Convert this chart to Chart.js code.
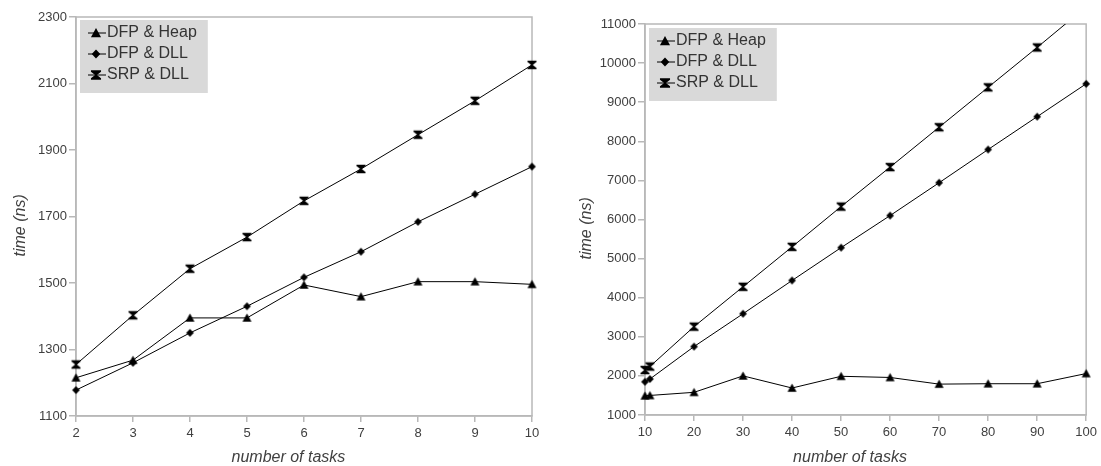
<!DOCTYPE html>
<html>
<head>
<meta charset="utf-8">
<script src="https://cdn.jsdelivr.net/npm/chart.js@4.4.1/dist/chart.umd.min.js"></script>
<style>
  html, body { margin: 0; padding: 0; background: #fff; }
  #wrap { position: relative; width: 1101px; height: 466px; }
  .box { position: absolute; top: 0; height: 466px; }
  #leftBox { left: 0; width: 550px; }
  #rightBox { left: 548px; width: 553px; }
</style>
</head>
<body>
<div id="wrap">
  <div class="box" id="leftBox"><canvas id="leftChart"></canvas></div>
  <div class="box" id="rightBox"><canvas id="rightChart"></canvas></div>
</div>
<script>
// series names (same in both panels)
const seriesNames = ['DFP & Heap', 'DFP & DLL', 'SRP & DLL'];

// left panel: 2..10 tasks
const tasksLeft = [2, 3, 4, 5, 6, 7, 8, 9, 10];
const heapLeft = [1215, 1268, 1395, 1395, 1494, 1459, 1504, 1504, 1496];
const dfpDllLeft = [1178, 1260, 1350, 1430, 1517, 1594, 1684, 1767, 1850];
const srpDllLeft = [1255, 1403, 1543, 1638, 1747, 1843, 1946, 2048, 2156];

// right panel: 10..100 tasks
const tasksRight = [10, 11, 20, 30, 40, 50, 60, 70, 80, 90, 100];
const heapRight = [1490, 1500, 1580, 2000, 1690, 1990, 1960, 1790, 1800, 1800, 2060];
const dfpDllRight = [1850, 1920, 2750, 3590, 4440, 5280, 6100, 6940, 7790, 8630, 9470];
const srpDllRight = [2150, 2240, 3260, 4280, 5300, 6330, 7340, 8360, 9380, 10400, 11440];

const FONT = "'Liberation Sans', Arial, sans-serif";
const AXIS_GRAY = '#b8b8b8';
const TEXT_GRAY = '#404040';
const LEGEND_PAD = 5;
const LEGEND_FONT = 16;

// marker shapes drawn on small canvases
function markerCanvas(kind, withLine, k) {
  const w = withLine ? 20 : 11, h = 12;
  const c = document.createElement('canvas');
  c.width = w; c.height = h;
  const ctx = c.getContext('2d');
  const cx = w / 2, cy = h / 2;
  if (withLine) {
    ctx.strokeStyle = '#000';
    ctx.lineWidth = 1;
    ctx.beginPath(); ctx.moveTo(0, cy); ctx.lineTo(w, cy); ctx.stroke();
  }
  ctx.fillStyle = '#000';
  ctx.beginPath();
  if (kind === 'tri') {
    ctx.moveTo(cx, cy - 4.5 * k); ctx.lineTo(cx + 4.5 * k, cy + 3.8 * k); ctx.lineTo(cx - 4.5 * k, cy + 3.8 * k);
  } else if (kind === 'dia') {
    ctx.moveTo(cx, cy - 4 * k); ctx.lineTo(cx + 3.8 * k, cy); ctx.lineTo(cx, cy + 4 * k); ctx.lineTo(cx - 3.8 * k, cy);
  } else {
    const a = 4.5 * k, b = 4.3 * k, e = 3 * k, m = 0.8 * k;
    ctx.moveTo(cx - a, cy - b); ctx.lineTo(cx + a, cy - b); ctx.lineTo(cx + a, cy - e);
    ctx.lineTo(cx + m, cy); ctx.lineTo(cx + a, cy + e); ctx.lineTo(cx + a, cy + b);
    ctx.lineTo(cx - a, cy + b); ctx.lineTo(cx - a, cy + e); ctx.lineTo(cx - m, cy);
    ctx.lineTo(cx - a, cy - e);
  }
  ctx.closePath();
  ctx.fill();
  return c;
}
const kinds = ['tri', 'dia', 'hour'];
const pointImgs = kinds.map(k => markerCanvas(k, false, 1));
const legendImgs = kinds.map(k => markerCanvas(k, true, 1.12));

// grey frame round the plot, legend moved into the plot with a grey box behind it
const framePlugin = {
  id: 'frame',
  beforeDraw(chart, args, opts) {
    const lg = chart.legend;
    const a = chart.chartArea;
    if (!lg) return;
    lg.left = a.left + 12;
    lg.top = a.top + opts.legendDy;
    lg.right = lg.left + lg.width;
    lg.bottom = lg.top + lg.height;
    const ctx = chart.ctx;
    ctx.save();
    ctx.font = LEGEND_FONT + 'px ' + FONT;
    const textW = Math.max(...seriesNames.map(n => ctx.measureText(n).width));
    const rowH = LEGEND_FONT + LEGEND_PAD;
    const l = lg.left - 8;
    const r = lg.left + LEGEND_PAD + 6 + LEGEND_FONT / 2 + textW + 11;
    const b = lg.top + LEGEND_PAD + seriesNames.length * rowH + 5;
    ctx.fillStyle = '#d9d9d9';
    ctx.fillRect(l, lg.top, r - l, b - lg.top);
    ctx.restore();
  },
  beforeDatasetsDraw(chart) {
    const a = chart.chartArea;
    const ctx = chart.ctx;
    ctx.save();
    ctx.strokeStyle = AXIS_GRAY;
    ctx.lineWidth = 1.5;
    ctx.strokeRect(a.left, a.top, a.right - a.left, a.bottom - a.top);
    ctx.restore();
  }
};

function buildChart(id, xs, seriesList, cfg) {
  const datasets = seriesList.map((ys, i) => ({
    label: seriesNames[i],
    data: xs.map((x, j) => ({ x: x, y: ys[j] })),
    borderColor: '#000',
    borderWidth: 1,
    pointStyle: pointImgs[i],
    pointRadius: 5,
    pointHoverRadius: 5,
    tension: 0,
    clip: { left: 8, right: 8, top: 0, bottom: 8 }
  }));
  return new Chart(document.getElementById(id), {
    type: 'line',
    data: { datasets: datasets },
    plugins: [framePlugin],
    options: {
      responsive: true,
      maintainAspectRatio: false,
      animation: false,
      events: [],
      layout: { padding: { left: cfg.padLeft, right: cfg.padRight, top: cfg.padTop, bottom: 0 } },
      plugins: {
        frame: { legendDy: cfg.legendDy },
        tooltip: { enabled: false },
        legend: {
          position: 'chartArea',
          align: 'start',
          labels: {
            usePointStyle: true,
            pointStyleWidth: 6,
            padding: LEGEND_PAD,
            color: '#333',
            font: { family: FONT, size: LEGEND_FONT },
            generateLabels: () => seriesNames.map((n, i) => ({
              text: n,
              pointStyle: legendImgs[i],
              datasetIndex: i,
              hidden: false,
              lineWidth: 0,
              fontColor: '#333'
            }))
          }
        }
      },
      scales: {
        x: {
          type: 'linear',
          min: cfg.xMin, max: cfg.xMax,
          afterFit: (s) => { s.height = cfg.xHeight; },
          ticks: { stepSize: cfg.xStep, color: TEXT_GRAY, padding: 4, font: { family: FONT, size: 13 },
                   callback: (v) => String(v) },
          grid: { drawOnChartArea: false, color: AXIS_GRAY, lineWidth: 1.5, tickLength: 6 },
          border: { color: AXIS_GRAY, width: 1.5 },
          title: {
            display: true, text: 'number of tasks       ', color: TEXT_GRAY,
            font: { family: FONT, size: 16, style: 'italic', lineHeight: 1 },
            padding: 0
          }
        },
        y: {
          min: cfg.yMin, max: cfg.yMax,
          afterFit: (s) => { s.width = cfg.yWidth; },
          ticks: { stepSize: cfg.yStep, color: TEXT_GRAY, padding: 2, font: { family: FONT, size: 13 },
                   callback: (v) => String(v) },
          grid: { drawOnChartArea: false, color: AXIS_GRAY, lineWidth: 1.5, tickLength: 7 },
          border: { color: AXIS_GRAY, width: 1.5 },
          title: {
            display: true, text: 'time (ns)    ', color: TEXT_GRAY,
            font: { family: FONT, size: 16, style: 'italic', lineHeight: 1 },
            padding: { top: 13, bottom: 0 }
          }
        }
      }
    }
  });
}

buildChart('leftChart', tasksLeft, [heapLeft, dfpDllLeft, srpDllLeft], {
  xMin: 2, xMax: 10, xStep: 1, yMin: 1100, yMax: 2300, yStep: 200,
  padLeft: 0, padRight: 18, padTop: 17, yWidth: 76, xHeight: 50, legendDy: 3
});

buildChart('rightChart', tasksRight, [heapRight, dfpDllRight, srpDllRight], {
  xMin: 10, xMax: 100, xStep: 10, yMin: 1000, yMax: 11000, yStep: 1000,
  padLeft: 18, padRight: 11, padTop: 24, yWidth: 79, xHeight: 51, legendDy: 4
});
</script>
</body>
</html>
